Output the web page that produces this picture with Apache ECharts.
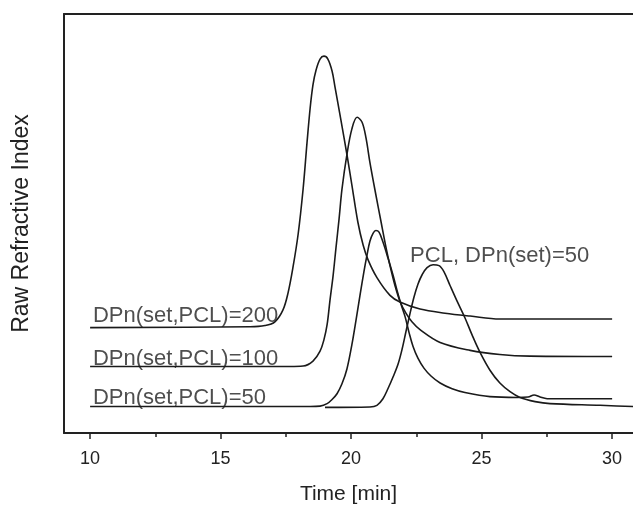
<!DOCTYPE html>
<html>
<head>
<meta charset="utf-8">
<script src="https://cdn.jsdelivr.net/npm/echarts@6/dist/echarts.min.js"></script>
<style>
html,body{margin:0;padding:0;background:#fff;}
#chart{width:633px;height:510px;}
</style>
</head>
<body>
<div id="chart"></div>
<script>
// Tick labels / ticks (minutes)
const majorTicks = [10, 15, 20, 25, 30];
const minorTicks = [12.5, 17.5, 22.5, 27.5];

// Curve data: [time (min), raw refractive index (a.u.)]
const dp200 = [[10,25.5],[16.13,25.7],[16.70,26.0],[17.08,26.9],[17.39,29.8],[17.58,33.8],[17.77,40.0],[17.97,48.1],[18.16,59.0],[18.31,70.2],[18.43,78.6],[18.54,84.3],[18.66,87.9],[18.81,90.5],[18.96,91.2],[19.11,90.5],[19.27,87.6],[19.38,83.8],[19.61,75.7],[19.84,67.4],[20.03,60.0],[20.26,51.0],[20.46,45.5],[20.65,41.9],[20.99,37.6],[21.49,33.3],[21.87,31.7],[22.64,30.0],[23.60,29.0],[24.56,28.3],[25.70,27.6],[30,27.6]];
const dp100 = [[10,16.1],[17.66,16.1],[18.16,16.2],[18.54,17.4],[18.81,19.8],[18.96,22.6],[19.08,26.2],[19.19,32.1],[19.31,38.1],[19.42,44.8],[19.54,51.9],[19.65,59.0],[19.84,67.4],[20.03,73.6],[20.23,76.4],[20.42,75.2],[20.57,71.4],[20.72,65.5],[20.95,57.6],[21.15,51.0],[21.34,44.8],[21.49,40.5],[21.68,35.7],[21.87,31.9],[22.10,29.0],[22.33,26.9],[22.64,25.0],[23.41,21.9],[24.56,20.0],[25.70,19.0],[26.85,18.6],[30,18.5]];
const dp50 = [[10,6.4],[18.43,6.4],[18.81,6.5],[19.08,7.1],[19.27,8.1],[19.46,9.5],[19.65,11.9],[19.84,15.5],[20.03,21.4],[20.19,27.4],[20.34,33.3],[20.49,39.0],[20.61,43.1],[20.72,46.4],[20.84,48.3],[20.95,49.0],[21.07,48.6],[21.22,46.2],[21.41,42.4],[21.61,38.1],[21.76,34.5],[21.91,31.2],[22.07,28.1],[22.22,24.3],[22.37,21.0],[22.56,18.1],[22.79,15.7],[23.06,13.8],[23.41,12.1],[23.87,10.7],[24.36,9.8],[25.32,8.8],[26.36,8.6],[26.78,8.7],[27.01,9.2],[27.24,8.7],[27.51,8.3],[30,8.3]];
const pcl50 = [[19.0,6.2],[20.72,6.3],[20.99,6.7],[21.22,8.3],[21.41,10.7],[21.61,13.6],[21.80,16.7],[21.95,20.2],[22.10,24.5],[22.26,29.0],[22.41,32.9],[22.56,36.0],[22.72,38.3],[22.91,40.0],[23.14,40.7],[23.37,40.5],[23.56,39.0],[23.79,35.7],[24.06,31.9],[24.36,27.9],[24.63,23.8],[24.94,19.5],[25.32,15.2],[25.70,12.1],[26.09,10.0],[26.47,8.6],[27.05,7.6],[27.62,7.1],[29.54,6.7],[30.80,6.4],[31.5,6.3]];

// Annotation labels
const labelTexts = ['DPn(set,PCL)=200', 'DPn(set,PCL)=100', 'DPn(set,PCL)=50', 'PCL, DPn(set)=50'];
const labelT = [10.11, 10.11, 10.11, 22.26];
const labelV = [28.3, 18.0, 8.5, 42.8];

const FONT = '"Liberation Sans", Arial, sans-serif';
const INK = '#222';
const chart = echarts.init(document.getElementById('chart'), null, {renderer: 'canvas'});

function curve(name, data) {
  return {
    name: name, type: 'line', data: data, xAxisIndex: 0, yAxisIndex: 0,
    showSymbol: false, smooth: 0.35, silent: true,
    lineStyle: {color: '#1a1a1a', width: 1.6},
    animation: false, clip: true
  };
}

const xMin = 9, xMax = 30.8;
chart.setOption({
  animation: false,
  backgroundColor: '#fff',
  grid: {left: 64, right: 0, top: 14, bottom: 70, show: false},
  xAxis: [{
    type: 'value', min: xMin, max: xMax, position: 'bottom',
    name: 'Time [min]', nameLocation: 'middle', nameGap: 51,
    nameTextStyle: {fontFamily: FONT, fontSize: 21, color: INK},
    axisLine: {show: true, onZero: false, lineStyle: {color: INK, width: 2}},
    axisTick: {show: true, length: 6, inside: false, customValues: majorTicks, lineStyle: {color: INK, width: 1.5}},
    axisLabel: {show: true, customValues: majorTicks, margin: 17, fontFamily: FONT, fontSize: 18, color: INK},
    splitLine: {show: false}
  }, {
    type: 'value', min: xMin, max: xMax, position: 'bottom', gridIndex: 0,
    axisLine: {show: false, onZero: false},
    axisTick: {show: true, length: 4, inside: false, customValues: minorTicks, lineStyle: {color: INK, width: 1.5}},
    axisLabel: {show: false},
    splitLine: {show: false}
  }, {
    type: 'value', min: xMin, max: xMax, position: 'top', gridIndex: 0,
    axisLine: {show: true, onZero: false, lineStyle: {color: INK, width: 2}},
    axisTick: {show: false}, axisLabel: {show: false}, splitLine: {show: false}
  }],
  yAxis: {
    type: 'value', min: 0, max: 101.4,
    name: 'Raw Refractive Index', nameLocation: 'middle', nameGap: 31, nameRotate: 90,
    nameTextStyle: {fontFamily: FONT, fontSize: 23, color: INK},
    axisLine: {show: true, onZero: false, lineStyle: {color: INK, width: 2}},
    axisTick: {show: false}, axisLabel: {show: false}, splitLine: {show: false}
  },
  series: [
    curve('DPn(set,PCL)=200', dp200),
    curve('DPn(set,PCL)=100', dp100),
    curve('DPn(set,PCL)=50', dp50),
    curve('PCL, DPn(set)=50', pcl50),
    {
      type: 'scatter', silent: true, symbolSize: 0, animation: false,
      data: labelTexts.map((t, i) => [labelT[i], labelV[i], t]),
      label: {show: true, position: 'right', distance: 0, formatter: p => p.data[2],
        fontFamily: FONT, fontSize: 22, color: INK}
    }
  ]
});
</script>
</body>
</html>
